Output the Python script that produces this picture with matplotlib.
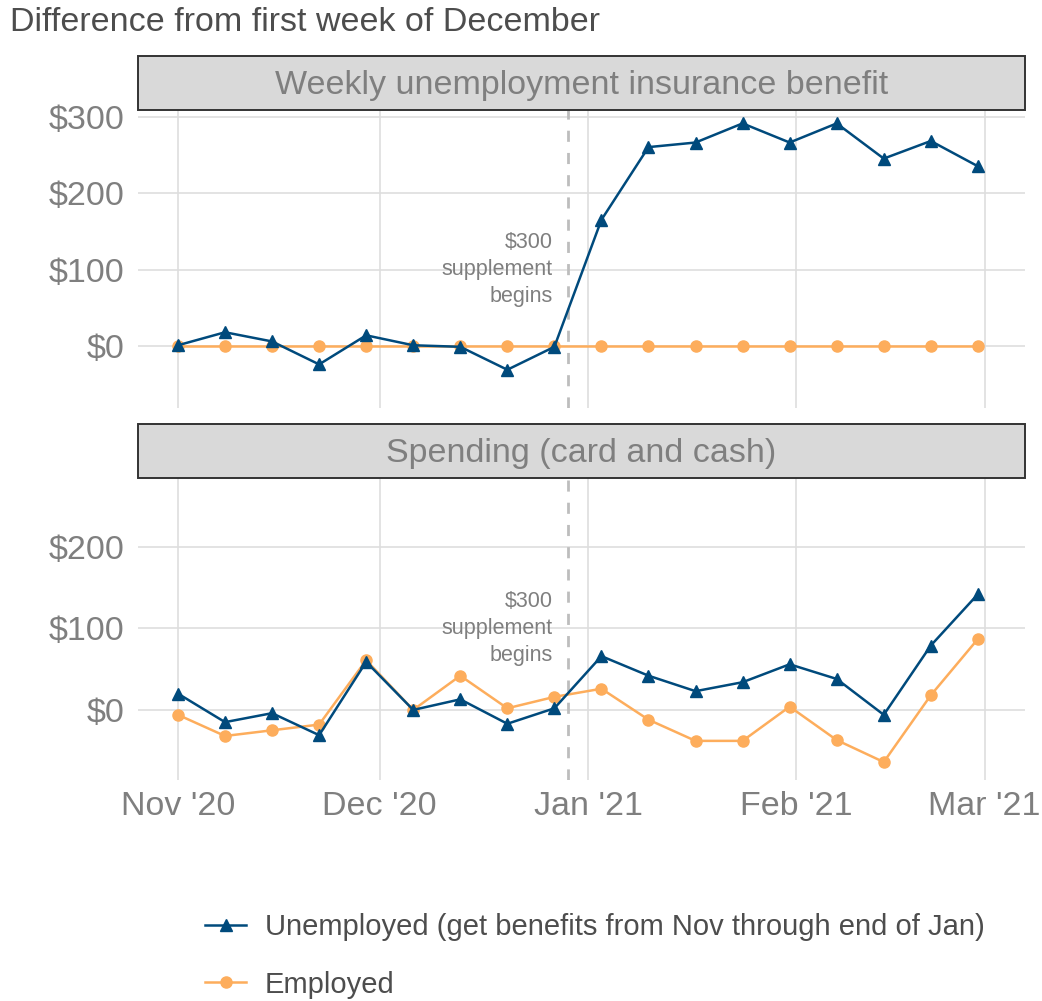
import matplotlib.pyplot as plt
import matplotlib.dates as mdates
from matplotlib.patches import Rectangle
import datetime as dt

plt.rcParams['font.family'] = ['Liberation Sans', 'DejaVu Sans']

# weekly dates, Nov 1 2020 .. Feb 28 2021
weeks = [dt.date(2020, 11, 1) + dt.timedelta(days=7 * i) for i in range(18)]

benefit_unemployed = [1, 18, 6, -24, 14, 1, -1, -31, -1,
                      165, 260, 266, 291, 266, 291, 245, 268, 235]
benefit_employed = [0] * 18

spend_unemployed = [20, -15, -4, -31, 59, 0, 13, -17, 2,
                    66, 42, 23, 34, 56, 38, -6, 79, 142]
spend_employed = [-6, -32, -25, -18, 61, 0, 42, 2, 16,
                  26, -12, -38, -38, 4, -37, -64, 18, 87]

panel_titles = ['Weekly unemployment insurance benefit', 'Spending (card and cash)']
series_labels = ['Unemployed (get benefits from Nov through end of Jan)', 'Employed']
supplement_date = dt.date(2020, 12, 29)

blue = '#004a7c'
orange = '#fdad5c'
grey_txt = '#7f7f7f'

fig = plt.figure(figsize=(10.42, 10.01), dpi=100)

panels = [
    dict(data=(benefit_unemployed, benefit_employed), rect=[0.1324, 0.5924, 0.8512, 0.2977],
         strip=0.8901, ylim=(-81, 308.5), yticks=[0, 100, 200, 300]),
    dict(data=(spend_unemployed, spend_employed), rect=[0.1324, 0.2208, 0.8512, 0.3017],
         strip=0.5225, ylim=(-86, 284.7), yticks=[0, 100, 200]),
]

xmin = mdates.date2num(dt.date(2020, 11, 1)) - 5.95
xmax = mdates.date2num(dt.date(2020, 11, 1)) + 126.0
months = [dt.date(2020, 11, 1), dt.date(2020, 12, 1), dt.date(2021, 1, 1),
          dt.date(2021, 2, 1), dt.date(2021, 3, 1)]

handles = []
for i, p in enumerate(panels):
    ax = fig.add_axes(p['rect'])
    unemp, emp = p['data']
    for s in ax.spines.values():
        s.set_visible(False)
    ax.set_xlim(xmin, xmax)
    ax.set_ylim(*p['ylim'])
    ax.set_yticks(p['yticks'])
    ax.set_yticklabels(['${:,.0f}'.format(v) for v in p['yticks']])
    ax.set_xticks(months)
    ax.xaxis.set_major_formatter(mdates.DateFormatter("%b '%y"))
    ax.grid(True, color='#dedede', linewidth=1.2)
    ax.set_axisbelow(True)
    ax.tick_params(length=0, labelsize=24.5, labelcolor=grey_txt)
    ax.tick_params(axis='y', pad=10)
    ax.tick_params(axis='x', pad=8)
    if i == 0:
        ax.set_xticklabels([])

    ax.axvline(supplement_date, color='#bdbdbd', linestyle=(0, (4, 4)), linewidth=2, zorder=1)
    ax.annotate('$300\nsupplement\nbegins', xy=(mdates.date2num(supplement_date), 100),
                xytext=(-11, 0), textcoords='offset points', ha='right', va='center',
                multialignment='right', fontsize=15.5, color=grey_txt, linespacing=1.38)

    h2, = ax.plot(weeks, emp, color=orange, marker='o', markersize=8, linewidth=1.8, zorder=3)
    h1, = ax.plot(weeks, unemp, color=blue, marker='^', markersize=8.5, linewidth=1.8, zorder=4)
    handles = [h1, h2]

    # facet strip
    fig.patches.append(Rectangle((0.1324, p['strip']), 0.8512, 0.0539, transform=fig.transFigure,
                                 facecolor='#d9d9d9', edgecolor='#333333', linewidth=1.4))
    fig.text(0.1324 + 0.8512 / 2, p['strip'] + 0.0539 / 2 - 0.002, panel_titles[i], ha='center',
             va='center', fontsize=24.5, color=grey_txt)

fig.text(0.0096, 0.978, 'Difference from first week of December', ha='left', va='center',
         fontsize=24.5, color='#4d4d4d')

fig.legend(handles, series_labels, loc='center left', bbox_to_anchor=(0.197, 0.045),
           frameon=False, fontsize=21, handlelength=1.4, handletextpad=0.65,
           labelspacing=1.0, borderpad=0, borderaxespad=0, labelcolor='#4d4d4d')

fig.savefig('out.png', dpi=100)
